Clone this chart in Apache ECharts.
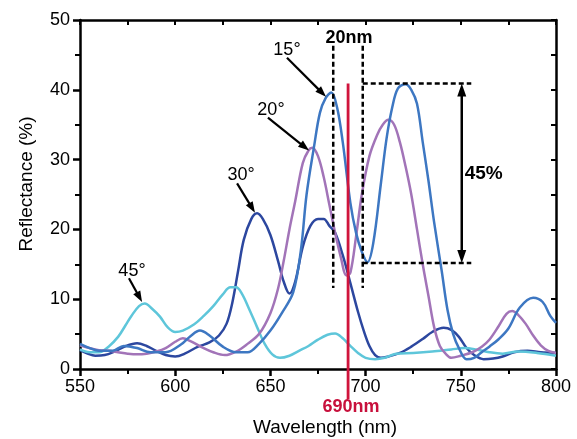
<!DOCTYPE html>
<html><head><meta charset="utf-8">
<script src="https://cdn.jsdelivr.net/npm/echarts/dist/echarts.min.js"></script>
<style>html,body{margin:0;padding:0;background:#fff}#c{width:577px;height:439px}</style>
</head><body><div id="c"></div>
<script>
// ---- data (wavelength nm, reflectance %) ----
const xTicks = [550, 600, 650, 700, 750, 800];
const yTicks = [0, 10, 20, 30, 40, 50];

const wl15 = [550,555,560,567,573,580,587,595,603,608,613,618,625,632,638,644,650,656,662,666,669,673,676,679,682,685,688,692,695,698,701,704,708,711,714,717,721,724,727,730,733,736,740,743,746,749,753,757,761,765,770,775,781,788,793,797,800];
const r15  = [3.6,3.0,2.6,2.6,3.3,3.0,2.4,2.4,3.5,4.7,5.5,4.8,3.2,2.4,2.4,3.6,5.5,8,11,17,25,32,36.7,38.8,39.6,37.5,32.5,23.8,19.5,16.8,15.3,18,26.5,33,37.5,40.2,40.8,40,38,32.5,27,21,14,8.5,5,3,1.4,1.6,2.4,3.2,4.3,5.8,8.8,10.2,9.6,7.6,6.6];

const wl20 = [550,555,560,565,570,575,580,585,590,595,600,604,608,615,620,626,632,638,644,650,654,657,660,663,667,670,672,675,678,681,684,687,690,692,695,698,702,706,709,712,715,718,721,724,727,730,733,736,739,742,745,750,756,761,765,770,774,777,780,784,788,792,796,800];
const r20  = [3.4,3.0,2.7,2.6,2.4,2.2,2.1,2.2,2.5,3.0,3.9,4.4,4.0,3.0,2.4,2.0,2.5,3.6,5.0,8,11.5,15.5,20,24,29.5,31.3,31.7,30.5,27.5,23.5,19.5,16,13.4,13.8,19,25,30.5,33.5,35,35.7,35,32.5,29,25,20,15,10.5,6,3.3,2.2,1.6,1.9,2.4,3.2,4.2,6.2,7.9,8.3,7.8,6.5,4.8,3.4,2.6,2.3];

const wl30 = [550,554,558,563,568,574,580,585,590,595,600,605,612,618,623,627,630,633,636,640,643,646,650,654,657,660,663,667,671,675,678,681,684,688,692,696,699,702,705,708,712,718,724,730,735,741,745,749,753,757,762,767,772,778,785,792,800];
const r30  = [2.7,2.2,1.9,2.0,2.5,3.3,3.7,3.3,2.6,2.0,1.8,2.2,3.2,3.8,4.8,6.5,9.5,14,18.5,21.5,22.3,21.5,19.2,15.5,12.5,10.8,12.5,17.5,20.5,21.5,21.5,20.5,19.5,16.3,12.3,8.2,5.5,3.3,2.0,1.6,1.8,2.3,3.2,4.3,5.3,5.9,5.6,4.6,3.0,2.0,1.4,1.5,1.8,2.4,2.6,2.4,2.3];

const wl45 = [550,555,560,565,570,574,577,581,584,588,592,596,600,604,610,615,620,625,629,632,635,639,643,647,651,655,660,665,670,675,680,684,688,692,696,700,705,710,716,725,735,745,752,758,765,772,780,790,800];
const r45  = [2.8,2.4,2.4,3.2,4.6,6.3,7.6,9.0,9.4,8.6,7.5,6.0,5.3,5.5,6.4,7.6,9.0,10.7,11.7,11.7,10.8,8.5,6.0,3.6,2.1,1.6,1.9,2.6,3.3,4.2,4.9,5.1,4.4,3.3,2.3,1.6,1.4,1.6,2.2,2.3,2.5,2.8,3.0,2.8,2.4,2.2,2.5,2.3,1.9];

const seriesNames = ['15°', '20°', '30°', '45°'];
const colors = ['#3d77c2', '#a274b8', '#2c479f', '#5ec6da'];

// annotation anchors in data space
const markedWl = 690.8;            // red line
const bandLeft = 683, bandRight = 698.5, bandTop = 46.3, bandBottom = 11.6;
const levelHigh = 40.9, levelLow = 15.2, levelEnd = 755.5, arrowWl = 750.5;

function zip(a, b) { return a.map((v, i) => [v, b[i]]); }

const chart = echarts.init(document.getElementById('c'));
const FONT = 'Liberation Sans, Arial, sans-serif';
const axisLineStyle = { color: '#000', width: 2.5 };

const mkSeries = (i, wl, r) => ({
  name: seriesNames[i], type: 'line', data: zip(wl, r), xAxisIndex: 0, yAxisIndex: 0,
  showSymbol: false, smooth: 0.35, lineStyle: { width: 2.5, color: colors[i] },
  itemStyle: { color: colors[i] }
});

chart.setOption({
  animation: false,
  backgroundColor: '#fff',
  grid: { left: 80, right: 21, top: 20, bottom: 70 },
  xAxis: [
    { type: 'value', min: xTicks[0], max: xTicks[xTicks.length - 1], interval: 50, position: 'bottom',
      axisLine: { show: true, onZero: false, lineStyle: axisLineStyle },
      axisTick: { show: true, inside: false, length: 7, lineStyle: { width: 2.5, color: '#000' } },
      minorTick: { show: true, splitNumber: 2, length: 5, lineStyle: { width: 2, color: '#000' } },
      splitLine: { show: false }, minorSplitLine: { show: false },
      axisLabel: { fontSize: 18, color: '#000', margin: 9, fontFamily: FONT } },
    { type: 'value', min: xTicks[0], max: xTicks[xTicks.length - 1], interval: 25, position: 'top',
      axisLine: { show: true, onZero: false, lineStyle: axisLineStyle },
      axisTick: { show: true, inside: true, length: 5, lineStyle: { width: 2, color: '#000' } },
      splitLine: { show: false }, axisLabel: { show: false } }
  ],
  yAxis: [
    { type: 'value', min: yTicks[0], max: yTicks[yTicks.length - 1], interval: 10, position: 'left',
      axisLine: { show: true, onZero: false, lineStyle: axisLineStyle },
      axisTick: { show: true, inside: false, length: 7, lineStyle: { width: 2.5, color: '#000' } },
      minorTick: { show: true, splitNumber: 2, length: 5, lineStyle: { width: 2, color: '#000' } },
      splitLine: { show: false }, minorSplitLine: { show: false },
      axisLabel: { fontSize: 18, color: '#000', margin: 10, fontFamily: FONT } },
    { type: 'value', min: yTicks[0], max: yTicks[yTicks.length - 1], interval: 5, position: 'right',
      axisLine: { show: true, onZero: false, lineStyle: axisLineStyle },
      axisTick: { show: true, inside: true, length: 5, lineStyle: { width: 2, color: '#000' } },
      splitLine: { show: false }, axisLabel: { show: false } }
  ],
  series: [
    mkSeries(2, wl30, r30),
    mkSeries(3, wl45, r45),
    mkSeries(1, wl20, r20),
    mkSeries(0, wl15, r15)
  ]
});

const P = (x, y) => chart.convertToPixel({ gridIndex: 0 }, [x, y]);

function dashLine(a, b) {
  return { type: 'line', shape: { x1: a[0], y1: a[1], x2: b[0], y2: b[1] },
    style: { stroke: '#000', lineWidth: 2.5, lineDash: [5, 3] }, z: 100 };
}
function arrowHead(tip, from, len, half) {
  const dx = tip[0] - from[0], dy = tip[1] - from[1];
  const d = Math.sqrt(dx * dx + dy * dy), ux = dx / d, uy = dy / d;
  const bx = tip[0] - ux * len, by = tip[1] - uy * len;
  return { type: 'polygon', shape: { points: [tip, [bx - uy * half, by + ux * half], [bx + uy * half, by - ux * half]] },
    style: { fill: '#000' }, z: 100 };
}
function arrow(from, tip) {
  const dx = tip[0] - from[0], dy = tip[1] - from[1];
  const d = Math.sqrt(dx * dx + dy * dy);
  const end = [tip[0] - dx / d * 8, tip[1] - dy / d * 8];
  return [
    { type: 'line', shape: { x1: from[0], y1: from[1], x2: end[0], y2: end[1] }, style: { stroke: '#000', lineWidth: 2.2 }, z: 100 },
    arrowHead(tip, from, 11, 4)
  ];
}
function txt(p, s, opt) {
  return Object.assign({ type: 'text', x: p[0], y: p[1], z: 101,
    style: Object.assign({ text: s, fill: '#000', font: '18px ' + FONT, textAlign: 'center', textVerticalAlign: 'middle' }, opt || {}) });
}

const angleNotes = [
  { label: seriesNames[0], text: [658.7, 45.7], from: [658.7, 44.6], to: [679.2, 39.0] },
  { label: seriesNames[1], text: [650.3, 37.1], from: [648.7, 36.0], to: [670.3, 31.3] },
  { label: seriesNames[2], text: [634.6, 27.8], from: [632.5, 26.6], to: [641.9, 22.4] },
  { label: seriesNames[3], text: [577.3, 14.0], from: [575.7, 13.0], to: [582.6, 9.6] }
];

const g = [];
// dashed 20nm band
g.push(dashLine(P(bandLeft, bandTop), P(bandLeft, bandBottom)));
g.push(dashLine(P(bandRight, bandTop), P(bandRight, bandBottom)));
g.push(dashLine(P(bandRight, levelHigh), P(levelEnd, levelHigh)));
g.push(dashLine(P(bandRight, levelLow), P(levelEnd, levelLow)));
// double arrow
const aTop = P(arrowWl, levelHigh), aBot = P(arrowWl, levelLow);
g.push({ type: 'line', shape: { x1: aTop[0], y1: aTop[1] + 8, x2: aBot[0], y2: aBot[1] - 8 }, style: { stroke: '#000', lineWidth: 2.5 }, z: 100 });
g.push(arrowHead(aTop, aBot, 13, 4.5));
g.push(arrowHead(aBot, aTop, 13, 4.5));
// red marker line
const rTop = P(markedWl, levelHigh), rBot = P(markedWl, 0);
g.push({ type: 'line', shape: { x1: rTop[0], y1: rTop[1], x2: rBot[0], y2: rBot[1] + 30 }, style: { stroke: '#d0143c', lineWidth: 2.8 }, z: 99 });
g.push(txt([rBot[0] + 3, rBot[1] + 38], '690nm', { fill: '#c8103c', font: 'bold 18px ' + FONT }));
// bold labels
const mid20 = P((bandLeft + bandRight) / 2, bandTop);
g.push(txt([mid20[0] + 1, mid20[1] - 8], '20nm', { font: 'bold 18px ' + FONT }));
const p45 = P(arrowWl, (levelHigh + levelLow) / 2);
g.push(txt([p45[0] + 22, p45[1] + 1], '45%', { font: 'bold 19px ' + FONT }));
// angle labels + arrows
angleNotes.forEach(n => {
  g.push(txt(P(n.text[0], n.text[1]), n.label));
  arrow(P(n.from[0], n.from[1]), P(n.to[0], n.to[1])).forEach(e => g.push(e));
});
// axis titles
g.push(txt([27, 184], 'Reflectance (%)', { font: '19px ' + FONT }));
g[g.length - 1].rotation = Math.PI / 2;
g.push(txt([325, 428], 'Wavelength (nm)', { font: '19px ' + FONT }));

chart.setOption({ graphic: g });
</script></body></html>
